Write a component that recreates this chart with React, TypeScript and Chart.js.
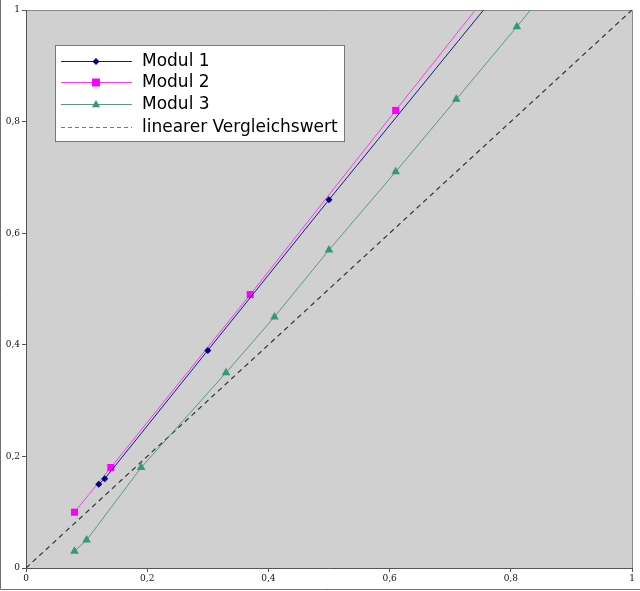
import React, { useEffect, useRef } from "react";
import { Chart, registerables } from "chart.js";

Chart.register(...registerables);

const modul1X = [0.12, 0.13, 0.30, 0.50, 0.80];
const modul1Y = [0.15, 0.16, 0.39, 0.66, 1.06];
const modul2X = [0.08, 0.14, 0.37, 0.61, 0.80];
const modul2Y = [0.10, 0.18, 0.49, 0.82, 1.08];
const modul3X = [0.08, 0.10, 0.19, 0.33, 0.41, 0.50, 0.61, 0.71, 0.81, 0.90];
const modul3Y = [0.03, 0.05, 0.18, 0.35, 0.45, 0.57, 0.71, 0.84, 0.97, 1.09];
const refX = [0, 1];
const refY = [0, 1];
const seriesNames = ["Modul 1", "Modul 2", "Modul 3", "linearer Vergleichswert"];
const tickValues = [0, 0.2, 0.4, 0.6, 0.8, 1];

const colors = ["#000080", "#ff00ff", "#339977", "#333333"];
const lineColors = ["#1a1a88", "#f040f0", "#5a9a80", "#333333"];

const toPts = (xs: number[], ys: number[]) => xs.map((x, i) => ({ x, y: ys[i] }));
const fmt = (v: number) => {
  const r = Math.round(v * 10) / 10;
  if (r === 0) return "0";
  if (r === 1) return "1";
  return r.toFixed(1).replace(".", ",");
};

function drawMarker(ctx: CanvasRenderingContext2D, style: string, x: number, y: number, r: number, color: string) {
  ctx.save();
  ctx.fillStyle = color;
  ctx.beginPath();
  if (style === "rectRot") {
    ctx.moveTo(x, y - r);
    ctx.lineTo(x + r, y);
    ctx.lineTo(x, y + r);
    ctx.lineTo(x - r, y);
    ctx.closePath();
  } else if (style === "rect") {
    ctx.rect(x - r, y - r, 2 * r, 2 * r);
  } else if (style === "triangle") {
    ctx.moveTo(x, y - r);
    ctx.lineTo(x + r * 0.9, y + r * 0.6);
    ctx.lineTo(x - r * 0.9, y + r * 0.6);
    ctx.closePath();
  }
  ctx.fill();
  ctx.restore();
}

const framePlugin = {
  id: "framePlugin",
  beforeDraw(chart: any) {
    const { ctx, chartArea } = chart;
    const { left, right, top, bottom } = chartArea;
    ctx.save();
    ctx.fillStyle = "#ffffff";
    ctx.fillRect(0, 0, chart.width, chart.height);
    ctx.fillStyle = "#d0d0d0";
    ctx.fillRect(left, top, right - left, bottom - top);
    ctx.strokeStyle = "#8a8a8a";
    ctx.lineWidth = 1;
    ctx.beginPath();
    ctx.moveTo(left, top + 0.5);
    ctx.lineTo(right + 0.5, top + 0.5);
    ctx.lineTo(right + 0.5, bottom);
    ctx.stroke();
    ctx.strokeStyle = "#707070";
    ctx.beginPath();
    ctx.moveTo(0.5, 0);
    ctx.lineTo(0.5, chart.height - 1.5);
    ctx.lineTo(chart.width, chart.height - 1.5);
    ctx.stroke();
    ctx.restore();
  },
  afterDraw(chart: any) {
    const { ctx } = chart;
    const bx = 55.5, by = 45.5, bw = 289, bh = 96;
    ctx.save();
    ctx.fillStyle = "#ffffff";
    ctx.fillRect(bx, by, bw, bh);
    ctx.strokeStyle = "#777777";
    ctx.lineWidth = 1;
    ctx.strokeRect(bx, by, bw, bh);
    const rows = [61, 82, 104, 127];
    const markers = ["rectRot", "rect", "triangle", ""];
    const msize = [3.5, 4, 4.5, 0];
    ctx.font = "17px 'DejaVu Sans'";
    ctx.textBaseline = "middle";
    rows.forEach((ry, i) => {
      ctx.strokeStyle = i === 3 ? "#777777" : lineColors[i];
      ctx.lineWidth = 1;
      ctx.setLineDash(i === 3 ? [4, 3] : []);
      ctx.beginPath();
      ctx.moveTo(61, ry + 0.5);
      ctx.lineTo(132, ry + 0.5);
      ctx.stroke();
      ctx.setLineDash([]);
      if (markers[i]) drawMarker(ctx, markers[i], 96, ry + 0.5, msize[i], colors[i]);
      ctx.fillStyle = "#000000";
      ctx.fillText(seriesNames[i], 142, ry + 1);
    });
    ctx.restore();
  },
};

export default function App() {
  const ref = useRef<HTMLCanvasElement>(null);
  useEffect(() => {
    document.body.style.margin = "0";
    const tickFont = { family: "'DejaVu Serif'", size: 9 };
    const chart = new Chart(ref.current as HTMLCanvasElement, {
      type: "line",
      data: {
        datasets: [
          {
            label: seriesNames[0],
            data: toPts(modul1X, modul1Y),
            borderColor: lineColors[0],
            backgroundColor: colors[0],
            borderWidth: 1,
            pointStyle: "rectRot",
            pointRadius: 3.5,
            pointBorderWidth: 0,
            tension: 0,
          },
          {
            label: seriesNames[1],
            data: toPts(modul2X, modul2Y),
            borderColor: lineColors[1],
            backgroundColor: colors[1],
            borderWidth: 1,
            pointStyle: "rect",
            pointRadius: 5,
            pointBorderWidth: 0,
            tension: 0,
          },
          {
            label: seriesNames[2],
            data: toPts(modul3X, modul3Y),
            borderColor: lineColors[2],
            backgroundColor: colors[2],
            borderWidth: 1,
            pointStyle: "triangle",
            pointRadius: 5,
            pointBorderWidth: 0,
            tension: 0,
          },
          {
            label: seriesNames[3],
            data: toPts(refX, refY),
            borderColor: lineColors[3],
            borderWidth: 1.2,
            borderDash: [5, 4],
            pointRadius: 0,
            tension: 0,
          },
        ],
      },
      options: {
        animation: false,
        responsive: false,
        events: [],
        layout: { padding: { top: 10, right: 8, left: 0, bottom: 0 } },
        plugins: { legend: { display: false }, tooltip: { enabled: false } },
        scales: {
          x: {
            type: "linear",
            min: 0,
            max: 1,
            afterBuildTicks: (s: any) => { s.ticks = tickValues.map((v) => ({ value: v })); },
            afterFit: (s: any) => { s.height = 23; },
            ticks: { font: tickFont, color: "#111", padding: 1, maxRotation: 0, callback: (v: any) => fmt(Number(v)) },
            grid: { drawOnChartArea: false, drawTicks: true, tickLength: 4, color: "#555" },
            border: { display: true, color: "#555", width: 1 },
          },
          y: {
            type: "linear",
            min: 0,
            max: 1,
            afterBuildTicks: (s: any) => { s.ticks = tickValues.map((v) => ({ value: v })); },
            afterFit: (s: any) => { s.width = 26; },
            ticks: { font: tickFont, color: "#111", padding: 2, callback: (v: any) => fmt(Number(v)) },
            grid: { drawOnChartArea: false, drawTicks: true, tickLength: 4, color: "#555" },
            border: { display: true, color: "#555", width: 1 },
          },
        },
      },
      plugins: [framePlugin],
    } as any);
    return () => chart.destroy();
  }, []);
  return <canvas ref={ref} width={640} height={591} style={{ display: "block" }} />;
}
